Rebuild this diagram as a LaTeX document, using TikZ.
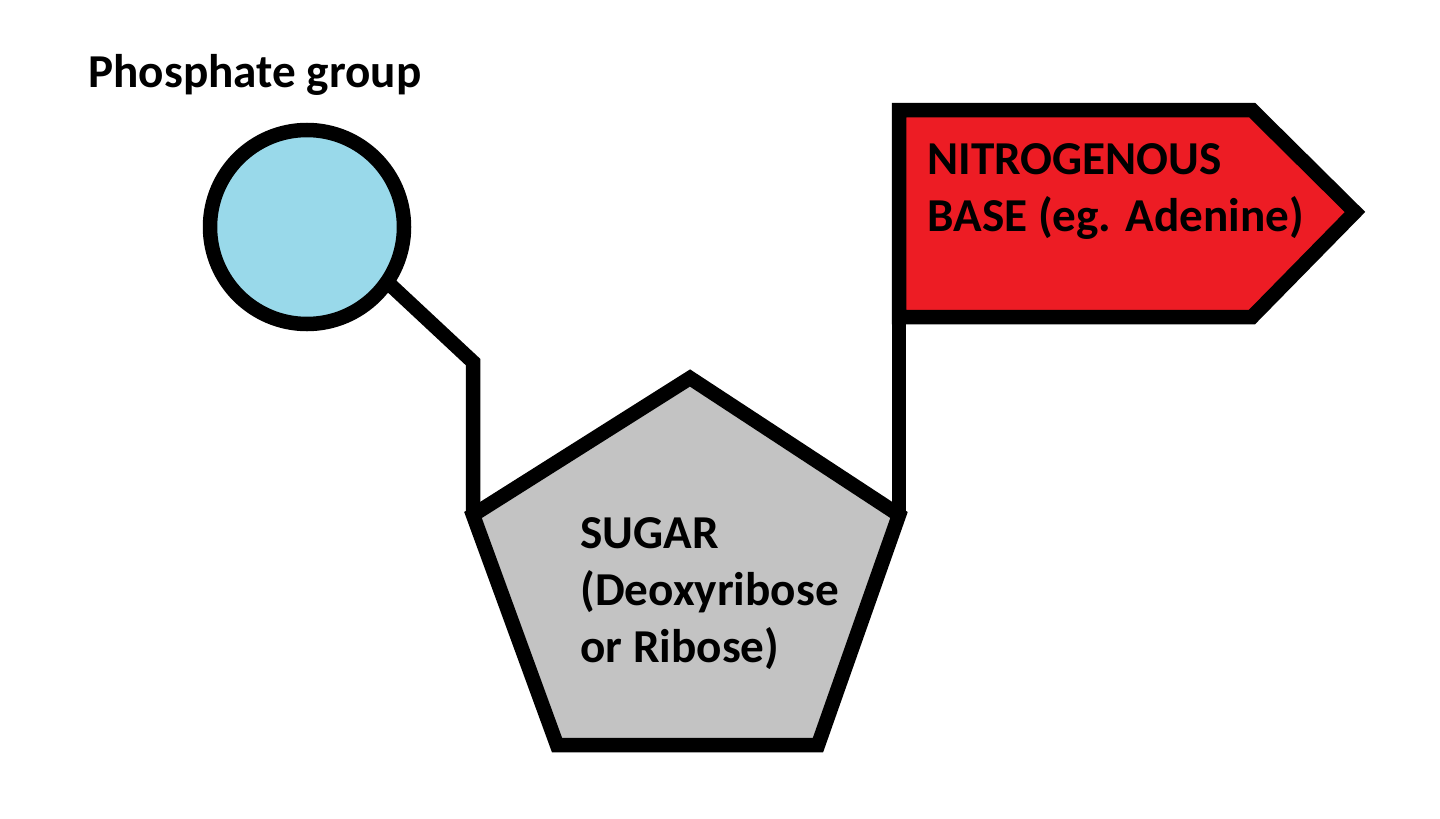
\documentclass[tikz,border=0pt]{standalone}
\usepackage{fontspec}
\setmainfont{Carlito}
\definecolor{phosblue}{HTML}{99D9EA}
\definecolor{sugargray}{HTML}{C3C3C3}
\definecolor{basered}{HTML}{ED1C24}
\begin{document}
\begin{tikzpicture}[x=0.5pt,y=-0.5pt,
  outline/.style={draw=black,line width=7.25pt},
  lbl/.style={font=\fontsize{23.6}{28.5}\selectfont\bfseries,inner sep=0pt,align=left,text=black}]
\useasboundingbox[fill=white] (0,0) rectangle (1440,819);
% phosphate
\node[circle,outline,fill=phosblue,minimum size=97pt,inner sep=0pt] (phos) at (307,227) {};
\node[lbl,anchor=base west] (phoslbl) at (88,87) {Phosphate group};
% sugar pentagon
\coordinate (pL) at (473,515);
\coordinate (pT) at (690,378);
\coordinate (pR) at (899,515);
\coordinate (pBR) at (818,745);
\coordinate (pBL) at (557,745);
\draw[outline,fill=sugargray] (pL) -- (pT) -- (pR) -- (pBR) -- (pBL) -- cycle;
\node[lbl,anchor=north west] (sugarlbl) at (580,517) {SUGAR\\(Deoxyribose\\or Ribose)};
% base flag
\coordinate (fTL) at (899,110);
\coordinate (fTR) at (1252,110);
\coordinate (fTip) at (1355,212);
\coordinate (fBR) at (1252,317);
\coordinate (fBL) at (899,317);
\draw[outline,fill=basered] (fBL) -- (fTL) -- (fTR) -- (fTip) -- (fBR) -- cycle;
\node[lbl,anchor=north west] (baselbl) at (927,143) {NITROGENOUS\\BASE (eg. Adenine)};
% connectors
\coordinate (bend) at (473,362);
\draw[outline,line join=miter,shorten <=-5pt] (phos.-35) -- (bend) -- (pL);
\draw[outline] (pR) -- (fBL);
\end{tikzpicture}
\end{document}
